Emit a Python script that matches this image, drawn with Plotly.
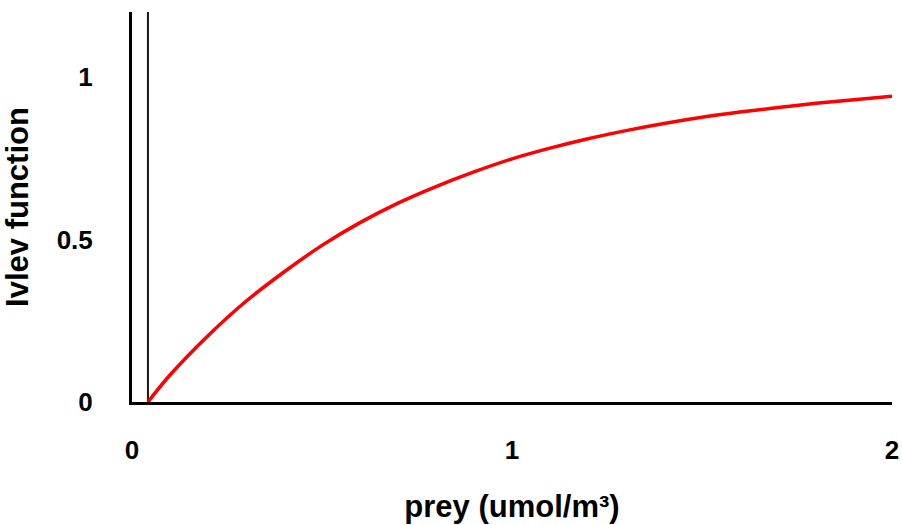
import plotly.graph_objects as go

# values
prey = [0.042, 0.1, 0.2, 0.3, 0.4, 0.5, 0.6, 0.7, 0.8, 0.9, 1.0,
        1.1, 1.2, 1.3, 1.4, 1.5, 1.6, 1.7, 1.8, 1.9, 2.0]
ivlev = [0.0, 0.083, 0.204, 0.31, 0.40, 0.482, 0.552, 0.612, 0.663, 0.708, 0.748,
         0.781, 0.810, 0.835, 0.857, 0.876, 0.892, 0.906, 0.919, 0.930, 0.941]
threshold_x = [0.042, 0.042]
threshold_y = [0.0, 1.2]

x_ticks = [0, 1, 2]
x_ticktext = ["0", "1", "2"]
y_ticks = [0, 0.5, 1]
y_ticktext = ["0", "0.5", "1"]

FONT = "Arial, Liberation Sans, sans-serif"

fig = go.Figure()
fig.add_trace(go.Scatter(x=threshold_x, y=threshold_y, mode="lines",
                         line=dict(color="#1a1a1a", width=2), showlegend=False,
                         hoverinfo="skip"))
fig.add_trace(go.Scatter(x=prey, y=ivlev, mode="lines",
                         line=dict(color="#ff0000", width=3.5, shape="spline",
                                   smoothing=1.0),
                         showlegend=False))

fig.update_layout(
    width=902, height=525,
    margin=dict(l=132, r=10, t=12, b=123, autoexpand=False),
    paper_bgcolor="white", plot_bgcolor="white",
    font=dict(family=FONT, color="black", size=26, weight="bold"),
)
fig.update_xaxes(
    range=[0, 2], showgrid=False, zeroline=False,
    showline=True, linecolor="black", linewidth=3,
    tickvals=x_ticks, ticktext=x_ticktext, ticks="",
    ticklabelstandoff=23, automargin=False,
    tickfont=dict(family=FONT, size=26, weight="bold"),
    title=dict(text="prey (umol/m³)", standoff=32,
               font=dict(family=FONT, size=31, weight="bold")),
)
fig.update_yaxes(
    range=[0, 1.2], showgrid=False, zeroline=False,
    showline=True, linecolor="black", linewidth=3,
    tickvals=y_ticks, ticktext=y_ticktext, ticks="",
    ticklabelstandoff=31, automargin=False,
    tickfont=dict(family=FONT, size=26, weight="bold"),
    title=dict(text="Ivlev function", standoff=26,
               font=dict(family=FONT, size=31, weight="bold")),
)

fig.write_html("out.html",
               config={"displayModeBar": False},
               post_script="document.body.style.margin='0';"
                           "document.body.style.overflow='hidden';")
